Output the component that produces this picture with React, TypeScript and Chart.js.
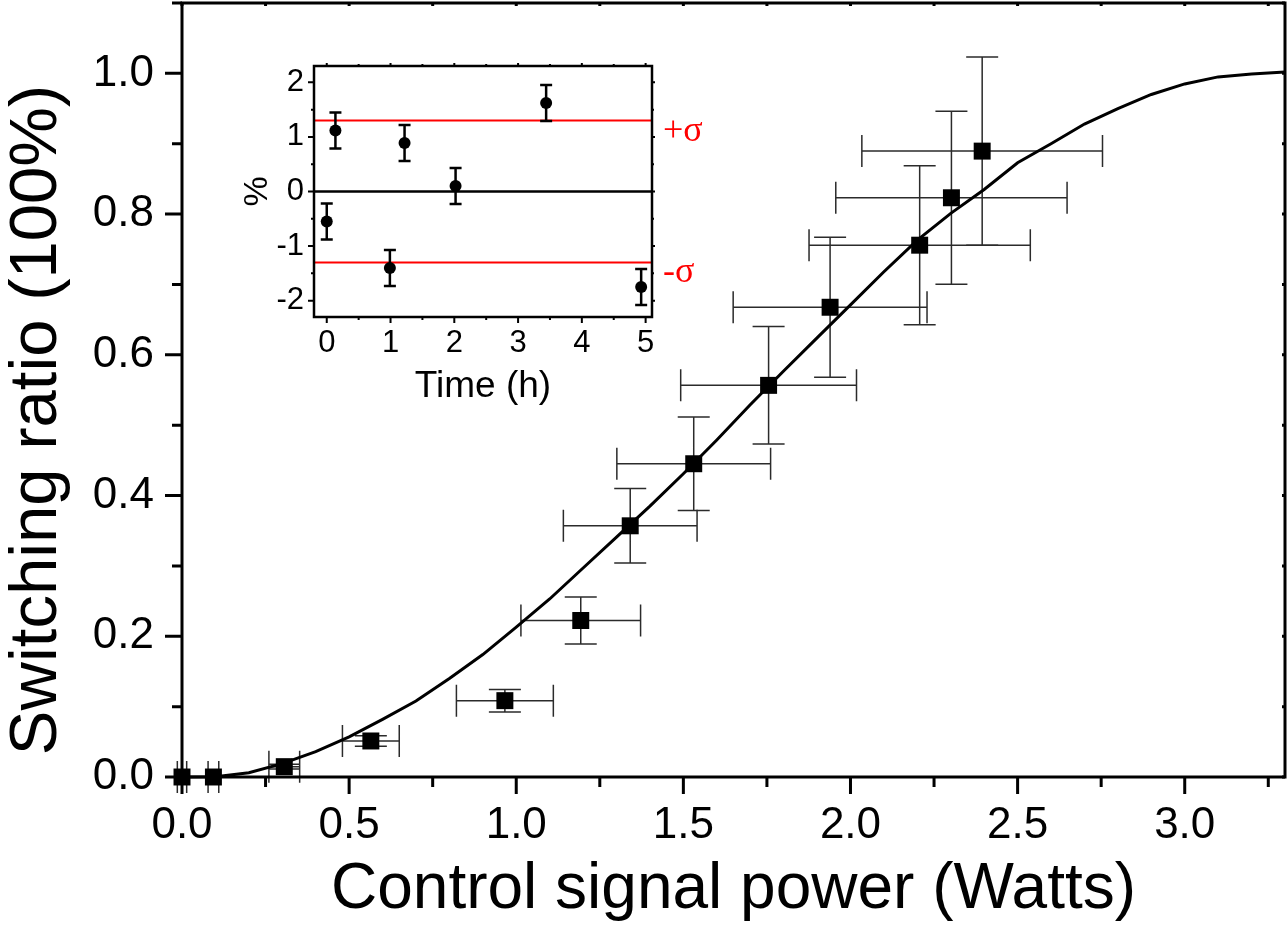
import React, { useEffect, useRef } from 'react';
import { Chart, registerables } from 'chart.js';

Chart.register(...registerables);

const FONT = "'Liberation Sans', Arial, Helvetica, sans-serif";
const SERIF = "'Liberation Serif', 'Times New Roman', serif";

// ---------- Main chart data ----------
const powerW = [0, 0.094, 0.306, 0.565, 0.966, 1.193, 1.341, 1.531, 1.755, 1.939, 2.207, 2.302, 2.394];
const switchRatio = [0, 0, 0.0147, 0.0512, 0.1085, 0.2224, 0.357, 0.4452, 0.5566, 0.6676, 0.7558, 0.8232, 0.8895];
const powerErr = [0.014, 0.016, 0.046, 0.085, 0.145, 0.179, 0.2, 0.23, 0.263, 0.29, 0.331, 0.346, 0.36];
const ratioErr = [0, 0, 0.0035, 0.0076, 0.016, 0.0334, 0.053, 0.0666, 0.0835, 0.0996, 0.113, 0.123, 0.1337];

const fitPowerW = [0, 0.1, 0.2, 0.3, 0.4, 0.5, 0.6, 0.7, 0.8, 0.9, 1.0, 1.1, 1.2, 1.3, 1.4, 1.5, 1.6, 1.7, 1.8, 1.9, 2.0, 2.1, 2.2, 2.3, 2.4, 2.5, 2.6, 2.7, 2.8, 2.9, 3.0, 3.1, 3.2, 3.3];
const fitRatio = [0, 0.0005, 0.006, 0.019, 0.036, 0.057, 0.082, 0.108, 0.14, 0.174, 0.213, 0.253, 0.297, 0.341, 0.385, 0.431, 0.479, 0.529, 0.577, 0.624, 0.671, 0.718, 0.763, 0.801, 0.835, 0.873, 0.9, 0.928, 0.95, 0.97, 0.985, 0.995, 0.999, 1.002];

const xTickValues = [0, 0.5, 1.0, 1.5, 2.0, 2.5, 3.0];
const xMinorTicks = [0.25, 0.75, 1.25, 1.75, 2.25, 2.75, 3.25];
const yTickValues = [0, 0.2, 0.4, 0.6, 0.8, 1.0];
const yMinorTicks = [0.1, 0.3, 0.5, 0.7, 0.9, 1.1];

const xTitle = 'Control signal power (Watts)';
const yTitle = 'Switching ratio (100%)';

// ---------- Inset data ----------
const timeH = [0, 0.136, 0.99, 1.22, 2.02, 3.44, 4.93];
const deviationPct = [-0.55, 1.12, -1.4, 0.89, 0.1, 1.62, -1.75];
const deviationErr = [0.33, 0.33, 0.33, 0.33, 0.33, 0.33, 0.33];
const sigmaPct = 1.3;
const insetXTicks = [0, 1, 2, 3, 4, 5];
const insetXMinor = [0.5, 1.5, 2.5, 3.5, 4.5];
const insetYTicks = [-2, -1, 0, 1, 2];
const insetYMinor = [-1.5, -0.5, 0.5, 1.5];
const insetXTitle = 'Time (h)';
const insetYTitle = '%';
const plusSigmaLabel = '+σ';
const minusSigmaLabel = '-σ';

const zeroScalePadding = (s: any) => {
  s.paddingTop = 0;
  s.paddingBottom = 0;
  s.paddingLeft = 0;
  s.paddingRight = 0;
};

const mainDecor = {
  id: 'mainDecor',
  beforeDatasetsDraw(chart: any) {
    const { ctx, chartArea: a } = chart;
    const xs = chart.scales.x;
    const ys = chart.scales.y;
    ctx.save();
    // error bars
    ctx.strokeStyle = '#2b2b2b';
    ctx.lineWidth = 1.5;
    const cap = 16;
    powerW.forEach((p, i) => {
      const cx = xs.getPixelForValue(p);
      const cy = ys.getPixelForValue(switchRatio[i]);
      const xl = xs.getPixelForValue(p - powerErr[i]);
      const xr = xs.getPixelForValue(p + powerErr[i]);
      ctx.beginPath();
      ctx.moveTo(xl, cy); ctx.lineTo(xr, cy);
      ctx.moveTo(xl, cy - cap); ctx.lineTo(xl, cy + cap);
      ctx.moveTo(xr, cy - cap); ctx.lineTo(xr, cy + cap);
      if (ratioErr[i] > 0) {
        const yt = ys.getPixelForValue(switchRatio[i] + ratioErr[i]);
        const yb = ys.getPixelForValue(switchRatio[i] - ratioErr[i]);
        ctx.moveTo(cx, yt); ctx.lineTo(cx, yb);
        ctx.moveTo(cx - cap, yt); ctx.lineTo(cx + cap, yt);
        ctx.moveTo(cx - cap, yb); ctx.lineTo(cx + cap, yb);
      }
      ctx.stroke();
    });
    // ticks
    ctx.strokeStyle = '#000';
    ctx.lineWidth = 3;
    ctx.beginPath();
    xTickValues.forEach((v) => {
      const px = xs.getPixelForValue(v);
      ctx.moveTo(px, a.bottom); ctx.lineTo(px, a.bottom + 17);
      ctx.moveTo(px, a.top); ctx.lineTo(px, a.top + 3);
    });
    xMinorTicks.forEach((v) => {
      const px = xs.getPixelForValue(v);
      ctx.moveTo(px, a.bottom); ctx.lineTo(px, a.bottom + 10);
      ctx.moveTo(px, a.top); ctx.lineTo(px, a.top + 3);
    });
    yTickValues.forEach((v) => {
      const py = ys.getPixelForValue(v);
      ctx.moveTo(a.left, py); ctx.lineTo(a.left - 17, py);
      ctx.moveTo(a.right, py); ctx.lineTo(a.right - 3, py);
    });
    yMinorTicks.forEach((v) => {
      const py = ys.getPixelForValue(v);
      ctx.moveTo(a.left, py); ctx.lineTo(a.left - 10, py);
      ctx.moveTo(a.right, py); ctx.lineTo(a.right - 3, py);
    });
    ctx.stroke();
    ctx.strokeRect(a.left, a.top, a.right - a.left, a.bottom - a.top);
    ctx.restore();
  },
  afterDraw(chart: any) {
    const { ctx } = chart;
    ctx.save();
    ctx.fillStyle = '#000';
    ctx.font = `67px ${FONT}`;
    ctx.textAlign = 'center';
    ctx.textBaseline = 'alphabetic';
    ctx.translate(56, 420);
    ctx.rotate(-Math.PI / 2);
    ctx.fillText(yTitle, 0, 0);
    ctx.restore();
  },
};

const insetDecor = {
  id: 'insetDecor',
  beforeDatasetsDraw(chart: any) {
    const { ctx, chartArea: a } = chart;
    const xs = chart.scales.x;
    const ys = chart.scales.y;
    ctx.save();
    // reference lines
    ctx.lineWidth = 2;
    ctx.strokeStyle = '#ff0000';
    [sigmaPct, -sigmaPct].forEach((v) => {
      const py = ys.getPixelForValue(v);
      ctx.beginPath(); ctx.moveTo(a.left, py); ctx.lineTo(a.right, py); ctx.stroke();
    });
    ctx.strokeStyle = '#000';
    ctx.lineWidth = 2.5;
    const pz = ys.getPixelForValue(0);
    ctx.beginPath(); ctx.moveTo(a.left, pz); ctx.lineTo(a.right, pz); ctx.stroke();
    // error bars
    ctx.lineWidth = 2.5;
    const cap = 6;
    timeH.forEach((t, i) => {
      const cx = xs.getPixelForValue(t);
      const yt = ys.getPixelForValue(deviationPct[i] + deviationErr[i]);
      const yb = ys.getPixelForValue(deviationPct[i] - deviationErr[i]);
      ctx.beginPath();
      ctx.moveTo(cx, yt); ctx.lineTo(cx, yb);
      ctx.moveTo(cx - cap, yt); ctx.lineTo(cx + cap, yt);
      ctx.moveTo(cx - cap, yb); ctx.lineTo(cx + cap, yb);
      ctx.stroke();
    });
    // ticks
    ctx.lineWidth = 2;
    ctx.beginPath();
    insetXTicks.forEach((v) => {
      const px = xs.getPixelForValue(v);
      ctx.moveTo(px, a.bottom); ctx.lineTo(px, a.bottom + 6);
      ctx.moveTo(px, a.top); ctx.lineTo(px, a.top - 3);
    });
    insetXMinor.forEach((v) => {
      const px = xs.getPixelForValue(v);
      ctx.moveTo(px, a.bottom); ctx.lineTo(px, a.bottom + 3);
      ctx.moveTo(px, a.top); ctx.lineTo(px, a.top - 2);
    });
    insetYTicks.forEach((v) => {
      const py = ys.getPixelForValue(v);
      ctx.moveTo(a.left, py); ctx.lineTo(a.left - 6, py);
      ctx.moveTo(a.right, py); ctx.lineTo(a.right + 3, py);
    });
    insetYMinor.forEach((v) => {
      const py = ys.getPixelForValue(v);
      ctx.moveTo(a.left, py); ctx.lineTo(a.left - 3, py);
      ctx.moveTo(a.right, py); ctx.lineTo(a.right + 2, py);
    });
    ctx.stroke();
    ctx.lineWidth = 2.5;
    ctx.strokeRect(a.left, a.top, a.right - a.left, a.bottom - a.top);
    // sigma labels
    ctx.fillStyle = '#ff0000';
    ctx.font = `36px ${SERIF}`;
    ctx.textAlign = 'left';
    ctx.textBaseline = 'alphabetic';
    ctx.fillText(plusSigmaLabel, a.right + 11, ys.getPixelForValue(sigmaPct) + 20);
    ctx.fillText(minusSigmaLabel, a.right + 11, ys.getPixelForValue(-sigmaPct) + 20);
    ctx.restore();
  },
};

export default function App() {
  const mainRef = useRef<HTMLCanvasElement>(null);
  const insetRef = useRef<HTMLCanvasElement>(null);

  useEffect(() => {
    const main = new Chart(mainRef.current as HTMLCanvasElement, {
      type: 'scatter',
      data: {
        datasets: [
          {
            label: 'Measured',
            data: powerW.map((x, i) => ({ x, y: switchRatio[i] })),
            pointStyle: 'rect',
            pointRadius: 12,
            pointBorderWidth: 0,
            backgroundColor: '#000',
            borderColor: '#000',
            showLine: false,
            clip: false,
          } as any,
          {
            label: 'Fit',
            data: fitPowerW.map((x, i) => ({ x, y: fitRatio[i] })),
            showLine: true,
            borderColor: '#000',
            borderWidth: 3,
            pointRadius: 0,
            tension: 0,
            fill: false,
            clip: 4,
          } as any,
        ],
      },
      options: {
        responsive: false,
        animation: false,
        events: [],
        layout: { autoPadding: false, padding: { left: 0, right: 3, top: 3, bottom: 0 } },
        plugins: { legend: { display: false }, tooltip: { enabled: false } },
        scales: {
          x: {
            type: 'linear',
            min: 0,
            max: 3.3,
            afterFit: (s: any) => { s.height = 152; zeroScalePadding(s); },
            afterBuildTicks: (s: any) => { s.ticks = xTickValues.map((v) => ({ value: v })); },
            grid: { display: false, drawTicks: false },
            border: { display: false },
            ticks: {
              padding: 22,
              color: '#000',
              font: { family: FONT, size: 44 },
              maxRotation: 0,
              autoSkip: false,
              callback: (v: any) => Number(v).toFixed(1),
            },
            title: {
              display: true,
              text: xTitle,
              color: '#000',
              font: { family: FONT, size: 64 },
              padding: { top: 0, bottom: 0 },
            },
          },
          y: {
            type: 'linear',
            min: 0,
            max: 1.1,
            afterFit: (s: any) => { s.width = 182; zeroScalePadding(s); },
            afterBuildTicks: (s: any) => { s.ticks = yTickValues.map((v) => ({ value: v })); },
            grid: { display: false, drawTicks: false },
            border: { display: false },
            ticks: {
              padding: 28,
              color: '#000',
              font: { family: FONT, size: 44 },
              autoSkip: false,
              callback: (v: any) => Number(v).toFixed(1),
            },
            title: { display: false },
          },
        },
      } as any,
      plugins: [mainDecor],
    });

    const inset = new Chart(insetRef.current as HTMLCanvasElement, {
      type: 'scatter',
      data: {
        datasets: [
          {
            label: 'Deviation',
            data: timeH.map((x, i) => ({ x, y: deviationPct[i] })),
            pointStyle: 'circle',
            pointRadius: 6,
            pointBorderWidth: 0,
            backgroundColor: '#000',
            borderColor: '#000',
            showLine: false,
            clip: false,
          } as any,
        ],
      },
      options: {
        responsive: false,
        animation: false,
        events: [],
        layout: { autoPadding: false, padding: { left: 0, right: 68, top: 16, bottom: 0 } },
        plugins: { legend: { display: false }, tooltip: { enabled: false } },
        scales: {
          x: {
            type: 'linear',
            min: -0.2,
            max: 5.1,
            afterFit: (s: any) => { s.height = 103; zeroScalePadding(s); },
            afterBuildTicks: (s: any) => { s.ticks = insetXTicks.map((v) => ({ value: v })); },
            grid: { display: false, drawTicks: false },
            border: { display: false },
            ticks: {
              padding: 8,
              color: '#000',
              font: { family: FONT, size: 31 },
              maxRotation: 0,
              autoSkip: false,
              callback: (v: any) => String(v),
            },
            title: {
              display: true,
              text: insetXTitle,
              color: '#000',
              font: { family: FONT, size: 37 },
              padding: { top: 0, bottom: 11 },
            },
          },
          y: {
            type: 'linear',
            min: -2.3,
            max: 2.3,
            afterFit: (s: any) => { s.width = 74; zeroScalePadding(s); },
            afterBuildTicks: (s: any) => { s.ticks = insetYTicks.map((v) => ({ value: v })); },
            grid: { display: false, drawTicks: false },
            border: { display: false },
            ticks: {
              padding: 10,
              color: '#000',
              font: { family: FONT, size: 31 },
              autoSkip: false,
              callback: (v: any) => String(v),
            },
            title: {
              display: true,
              text: insetYTitle,
              color: '#000',
              font: { family: FONT, size: 34 },
              padding: { top: -3, bottom: 0 },
            },
          },
        },
      } as any,
      plugins: [insetDecor],
    });

    return () => {
      main.destroy();
      inset.destroy();
    };
  }, []);

  return (
    <div style={{ position: 'fixed', left: 0, top: 0, width: 1288, height: 929, background: '#fff', overflow: 'hidden' }}>
      <canvas ref={mainRef} width={1288} height={929} style={{ position: 'absolute', left: 0, top: 0 }} />
      <canvas ref={insetRef} width={480} height={370} style={{ position: 'absolute', left: 240, top: 50 }} />
    </div>
  );
}
